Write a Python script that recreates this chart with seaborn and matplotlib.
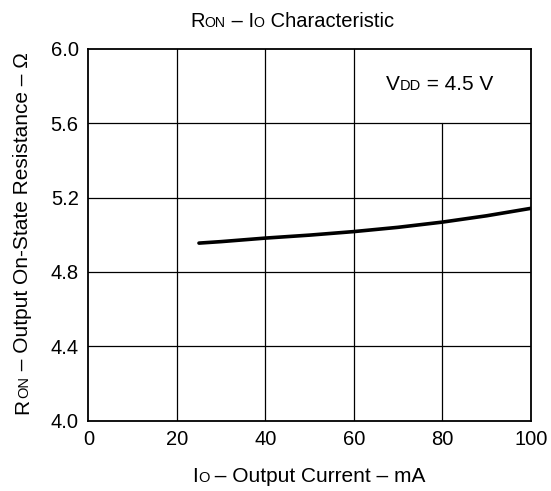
import numpy as np
import pandas as pd
import matplotlib
matplotlib.use("Agg")
import matplotlib.pyplot as plt
import matplotlib.transforms as mtransforms
import seaborn as sns

# Data
current_mA = [25, 30, 40, 50, 60, 70, 80, 90, 100]
ron_ohm = [4.955, 4.963, 4.982, 4.998, 5.017, 5.040, 5.068, 5.102, 5.142]
x_ticks = [0, 20, 40, 60, 80, 100]
y_ticks = [4.0, 4.4, 4.8, 5.2, 5.6, 6.0]
y_tick_labels = ["4.0", "4.4", "4.8", "5.2", "5.6", "6.0"]

sns.set_theme(style="white")
plt.rcParams['font.family'] = ['Liberation Sans', 'DejaVu Sans']

fig = plt.figure(figsize=(5.51, 4.91), dpi=100)
ax = fig.add_axes([88.4 / 551, 1 - 420.5 / 491, (530.7 - 88.4) / 551, (420.5 - 49) / 491])

df = pd.DataFrame({"I": current_mA, "R": ron_ohm})
sns.lineplot(data=df, x="I", y="R", ax=ax, color="black", linewidth=2.6)

ax.set_xlim(0, 100)
ax.set_ylim(4.0, 6.0)
ax.set_xticks(x_ticks)
ax.set_yticks(y_ticks)
ax.set_yticklabels(y_tick_labels)
ax.tick_params(axis="both", labelsize=14.5, length=0, pad=7, colors="black")
ax.set_xlabel("")
ax.set_ylabel("")
for s in ax.spines.values():
    s.set_color("black")
    s.set_linewidth(1.3)

# grid lines (the one at x=80 is interrupted by the label box)
for xv in [20, 40, 60]:
    ax.axvline(xv, color="black", lw=0.9, zorder=1)
ax.axvline(80, ymax=0.8, color="black", lw=0.9, zorder=1)
for yv in [4.4, 4.8, 5.2, 5.6]:
    ax.axhline(yv, color="black", lw=0.9, zorder=1)

fig.canvas.draw()
renderer = fig.canvas.get_renderer()


def rich(pieces, x, y, rotation=0):
    widths = []
    for s, size in pieces:
        t = fig.text(0, 0, s, fontsize=size)
        widths.append(t.get_window_extent(renderer).width)
        t.remove()
    start = -sum(widths) / 2
    for (s, size), w in zip(pieces, widths):
        if rotation == 0:
            tr = mtransforms.offset_copy(fig.transFigure, fig=fig, x=start, y=0, units="dots")
        else:
            tr = mtransforms.offset_copy(fig.transFigure, fig=fig, x=0, y=start, units="dots")
        fig.text(x, y, s, fontsize=size, transform=tr, ha="left", va="baseline",
                 rotation=rotation, rotation_mode="anchor", color="black")
        start += w


tb, ts = 14.5, 10.2
lb, ls = 15, 10.5
rich([("R", tb), ("ON", ts), (" – I", tb), ("O", ts), (" Characteristic", tb)],
     292 / 551, 1 - 27 / 491)
rich([("I", lb), ("O", ls), (" – Output Current – mA", lb)],
     309 / 551, 1 - 482 / 491)
rich([("R", lb), ("ON", ls), (" – Output On-State Resistance – Ω", lb)],
     28 / 551, 1 - 233 / 491, rotation=90)

# V_DD annotation
rich([("V", lb), ("DD", ls), (" = 4.5 V", lb)], 440 / 551, 1 - 90 / 491)

fig.savefig("out.png", dpi=100, facecolor="white")
